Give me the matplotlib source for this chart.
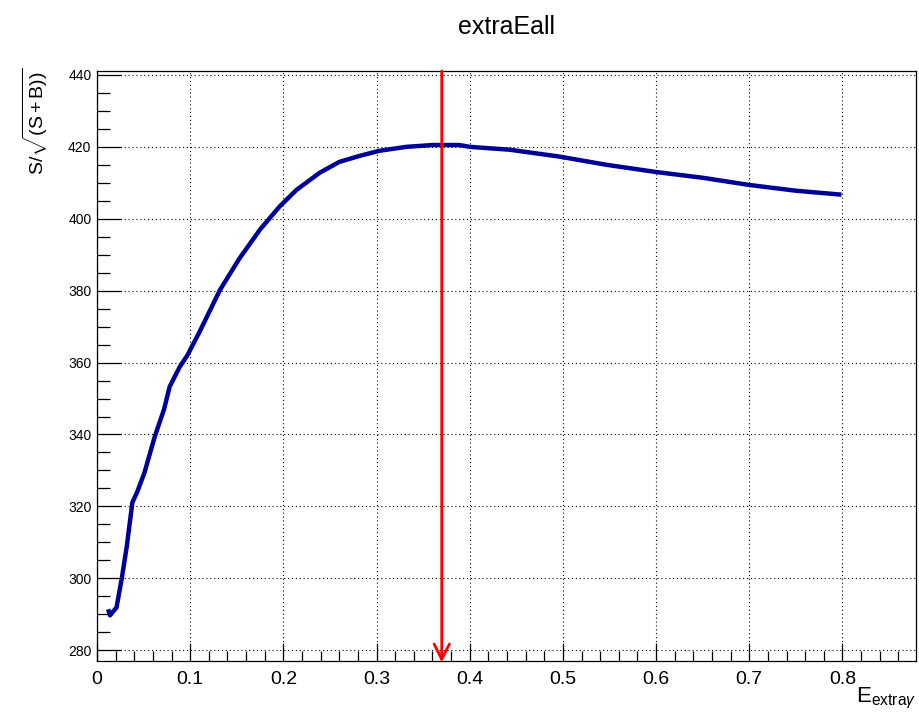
import matplotlib
matplotlib.use("Agg")
import matplotlib.pyplot as plt
from matplotlib.ticker import MultipleLocator

plt.rcParams['font.family'] = ['Liberation Sans', 'DejaVu Sans']
plt.rcParams['mathtext.fontset'] = 'custom'
plt.rcParams['mathtext.rm'] = 'Liberation Sans'
plt.rcParams['mathtext.it'] = 'Liberation Sans:italic'

# curve
e_cut = [0.012, 0.014, 0.021, 0.027, 0.032, 0.038, 0.043, 0.051, 0.062, 0.072,
         0.078, 0.089, 0.097, 0.110, 0.132, 0.153, 0.175, 0.196, 0.214, 0.239,
         0.260, 0.282, 0.303, 0.332, 0.360, 0.389, 0.400, 0.443, 0.496, 0.547,
         0.600, 0.650, 0.700, 0.750, 0.799]
signif = [291.4, 289.7, 291.9, 300.6, 308.9, 321.1, 323.9, 329.4, 339.4, 347.0,
          353.3, 358.9, 362.0, 368.5, 380.2, 389.0, 397.0, 403.4, 408.0, 412.8,
          415.8, 417.5, 418.9, 420.0, 420.5, 420.5, 420.0, 419.2, 417.3, 415.0,
          413.0, 411.4, 409.4, 407.8, 406.7]
best_cut = 0.37
x_range = (0.0, 0.879)
y_range = (277.0, 441.1)

fig = plt.figure(figsize=(9.2, 7.17), dpi=100)
ax = fig.add_axes([0.1054, 0.0781, 0.8903, 0.8229])

ax.plot(e_cut, signif, color='#000099', lw=3.2, solid_capstyle='butt', zorder=3)

ax.set_xlim(*x_range)
ax.set_ylim(*y_range)

# arrow at the chosen cut
ax.annotate('', xy=(best_cut, y_range[0] - 0.4), xytext=(best_cut, y_range[1]),
            arrowprops=dict(arrowstyle='->,head_length=1.1,head_width=0.55',
                            color='red', lw=2.0, shrinkA=0, shrinkB=0),
            annotation_clip=False, zorder=4)

ax.xaxis.set_major_locator(MultipleLocator(0.1))
ax.xaxis.set_minor_locator(MultipleLocator(0.02))
ax.yaxis.set_major_locator(MultipleLocator(20))
ax.yaxis.set_minor_locator(MultipleLocator(5))
ax.set_xticks([0, 0.1, 0.2, 0.3, 0.4, 0.5, 0.6, 0.7, 0.8])
ax.set_xticklabels(['0', '0.1', '0.2', '0.3', '0.4', '0.5', '0.6', '0.7', '0.8'])

ax.tick_params(axis='x', which='major', direction='in', length=13, width=0.9,
               labelsize=14, pad=7)
ax.tick_params(axis='x', which='minor', direction='in', length=7, width=0.9)
ax.tick_params(axis='y', which='major', direction='in', length=17, width=0.9,
               labelsize=10, pad=4)
ax.tick_params(axis='y', which='minor', direction='in', length=9, width=0.9)

ax.grid(True, which='major', color='black', lw=0.8, linestyle=(0, (1, 2.5)))
for s in ax.spines.values():
    s.set_linewidth(0.9)

ax.set_ylabel(r'S/$\sqrt{\mathrm{(S+B))}}$', fontsize=14, loc='top')
ax.yaxis.set_label_coords(-0.057, 1.005)
ax.set_xlabel(r'E$_{\mathrm{extra}\gamma}$', fontsize=16, loc='right')
ax.xaxis.set_label_coords(1.0, -0.042)
ax.xaxis.label.set_va('top')

fig.text(0.551, 0.963, 'extraEall', fontsize=18, ha='center', va='center')

fig.savefig('out.png', dpi=100)
